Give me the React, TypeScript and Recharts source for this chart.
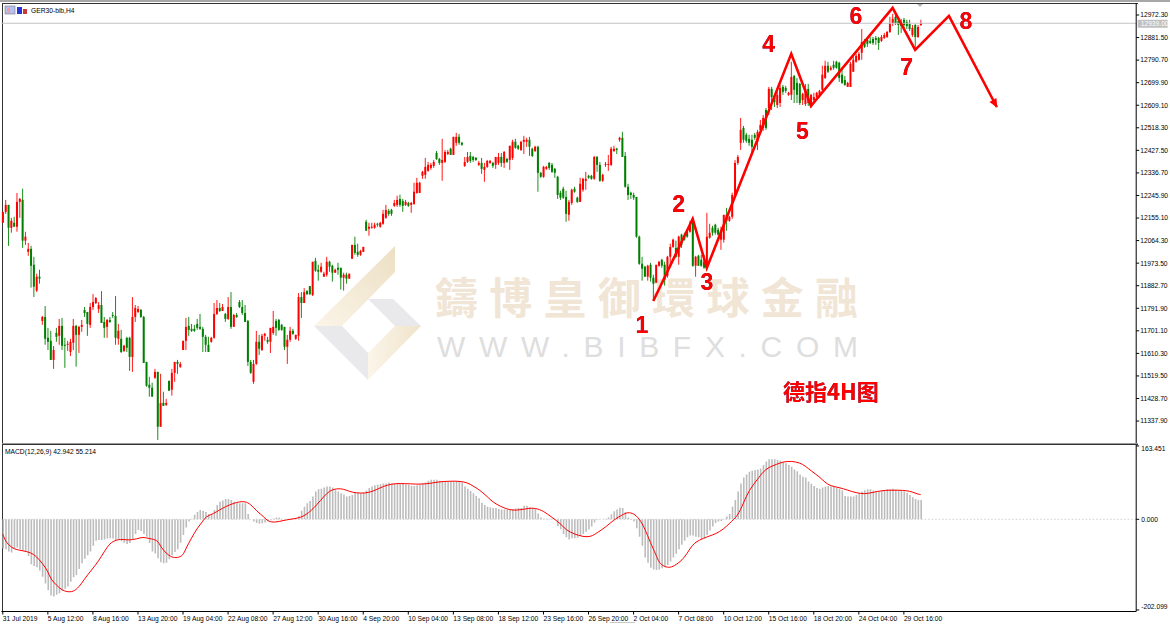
import {
  Bar,
  ComposedChart,
  Line,
  ReferenceDot,
  ReferenceLine,
  XAxis,
  YAxis,
} from "recharts";

// GER30 H4 candles (one row = 10 bars)
const opens = [
  12136, 12180, 12208, 12116, 12136, 12120, 12220, 12228, 12064, 12019,
  12031, 11967, 11863, 11919, 11741, 11757, 11673, 11661, 11584, 11693,
  11681, 11721, 11645, 11645, 11616, 11653, 11721, 11685, 11717, 11785,
  11777, 11725, 11797, 11813, 11789, 11805, 11737, 11717, 11745, 11765,
  11761, 11669, 11669, 11620, 11673, 11673, 11596, 11757, 11777, 11785,
  11757, 11576, 11484, 11472, 11512, 11536, 11315, 11411, 11403, 11500,
  11464, 11532, 11576, 11556, 11624, 11661, 11721, 11709, 11709, 11729,
  11717, 11709, 11677, 11645, 11657, 11673, 11769, 11793, 11781, 11769,
  11749, 11797, 11717, 11765, 11817, 11797, 11773, 11741, 11576, 11496,
  11568, 11657, 11624, 11681, 11665, 11657, 11693, 11741, 11745, 11725,
  11717, 11637, 11665, 11701, 11669, 11681, 11837, 11813, 11861, 11881,
  11845, 11983, 11947, 11939, 11919, 11927, 11979, 11963, 11935, 11955,
  11955, 11915, 11927, 11911, 11991, 12047, 12019, 12007, 12019, 12140,
  12112, 12116, 12116, 12132, 12120, 12132, 12156, 12184, 12188, 12204,
  12208, 12232, 12224, 12208, 12216, 12208, 12212, 12256, 12256, 12325,
  12329, 12345, 12357, 12365, 12417, 12393, 12377, 12381, 12413, 12434,
  12409, 12458, 12482, 12458, 12365, 12381, 12405, 12401, 12397, 12369,
  12377, 12349, 12361, 12377, 12377, 12369, 12377, 12401, 12377, 12393,
  12389, 12397, 12462, 12446, 12429, 12462, 12462, 12470, 12434, 12425,
  12442, 12337, 12321, 12353, 12377, 12369, 12353, 12321, 12257, 12273,
  12240, 12168, 12216, 12273, 12237, 12220, 12269, 12305, 12325, 12325,
  12313, 12401, 12369, 12305, 12369, 12369, 12369, 12425, 12434, 12470,
  12478, 12405, 12281, 12257, 12248, 12240, 12080, 11971, 11959, 11919,
  11967, 11915, 11895, 11963, 11987, 11967, 11923, 11999, 12039, 12035,
  11999, 12088, 12080, 12100, 12100, 12140, 11963, 12003, 11987, 11979,
  11963, 12076, 12116, 12128, 12108, 12068, 12068, 12168, 12144, 12160,
  12248, 12377, 12458, 12518, 12490, 12474, 12470, 12490, 12462, 12510,
  12518, 12590, 12598, 12675, 12642, 12610, 12618, 12683, 12679, 12651,
  12651, 12727, 12699, 12695, 12630, 12614, 12675, 12602, 12630, 12642,
  12651, 12671, 12719, 12768, 12752, 12772, 12784, 12780, 12732, 12711,
  12683, 12683, 12744, 12784, 12792, 12820, 12868, 12872, 12868, 12876,
  12880, 12880, 12868, 12880, 12884, 12904, 12940, 12965, 12948, 12944,
  12953, 12944, 12936, 12892, 12932, 12884, 12932,
];
const highs = [
  12180, 12228, 12208, 12156, 12160, 12256, 12236, 12273, 12100, 12055,
  12043, 11999, 11931, 11947, 11761, 11801, 11713, 11701, 11640, 11713,
  11749, 11753, 11673, 11661, 11669, 11749, 11725, 11721, 11745, 11797,
  11777, 11813, 11849, 11837, 11817, 11861, 11757, 11749, 11757, 11777,
  11841, 11729, 11705, 11645, 11677, 11677, 11837, 11805, 11801, 11789,
  11761, 11576, 11516, 11492, 11548, 11536, 11528, 11456, 11427, 11500,
  11548, 11576, 11584, 11576, 11661, 11753, 11757, 11729, 11725, 11749,
  11769, 11717, 11685, 11677, 11677, 11813, 11825, 11813, 11809, 11773,
  11837, 11857, 11769, 11773, 11825, 11825, 11805, 11745, 11584, 11584,
  11701, 11685, 11689, 11693, 11677, 11713, 11781, 11749, 11749, 11729,
  11717, 11685, 11717, 11709, 11685, 11853, 11857, 11873, 11865, 11881,
  11979, 11995, 11967, 11975, 11939, 11999, 11983, 11967, 11951, 11975,
  11955, 11935, 11935, 11931, 12047, 12080, 12052, 12027, 12039, 12148,
  12136, 12136, 12136, 12136, 12140, 12188, 12208, 12192, 12192, 12228,
  12245, 12249, 12232, 12228, 12220, 12220, 12297, 12317, 12301, 12345,
  12397, 12381, 12377, 12389, 12425, 12397, 12474, 12429, 12429, 12438,
  12482, 12498, 12494, 12462, 12401, 12421, 12421, 12405, 12401, 12385,
  12397, 12377, 12389, 12389, 12381, 12401, 12417, 12417, 12425, 12397,
  12446, 12470, 12474, 12450, 12466, 12486, 12478, 12482, 12438, 12446,
  12446, 12341, 12365, 12365, 12381, 12377, 12357, 12325, 12265, 12281,
  12265, 12228, 12273, 12281, 12241, 12317, 12317, 12341, 12329, 12329,
  12405, 12405, 12381, 12333, 12381, 12409, 12442, 12446, 12438, 12482,
  12502, 12421, 12293, 12261, 12257, 12240, 12084, 11999, 11963, 11967,
  11975, 11927, 11967, 11983, 11991, 11979, 12003, 12052, 12072, 12064,
  12084, 12092, 12096, 12104, 12144, 12148, 12003, 12007, 12007, 12007,
  12176, 12132, 12124, 12132, 12116, 12120, 12168, 12196, 12164, 12257,
  12389, 12409, 12558, 12526, 12498, 12490, 12490, 12498, 12510, 12550,
  12570, 12598, 12683, 12683, 12651, 12663, 12691, 12691, 12687, 12663,
  12784, 12731, 12719, 12699, 12659, 12695, 12695, 12655, 12659, 12663,
  12671, 12768, 12788, 12784, 12768, 12788, 12788, 12784, 12752, 12727,
  12703, 12784, 12804, 12816, 12824, 12916, 12876, 12880, 12884, 12884,
  12888, 12884, 12892, 12900, 12908, 12965, 12977, 12977, 12965, 12957,
  12961, 12953, 12953, 12932, 12936, 12932, 12953,
];
const lows = [
  12136, 12172, 12043, 12096, 12120, 12100, 12156, 12035, 12047, 12003,
  11875, 11837, 11857, 11891, 11725, 11645, 11624, 11584, 11548, 11657,
  11645, 11624, 11552, 11620, 11600, 11624, 11557, 11612, 11697, 11757,
  11681, 11713, 11785, 11809, 11773, 11733, 11673, 11673, 11733, 11753,
  11645, 11645, 11612, 11616, 11616, 11540, 11536, 11737, 11773, 11753,
  11572, 11476, 11436, 11436, 11508, 11262, 11315, 11399, 11399, 11460,
  11440, 11496, 11528, 11552, 11624, 11624, 11681, 11697, 11697, 11705,
  11705, 11616, 11616, 11616, 11653, 11669, 11765, 11777, 11781, 11737,
  11745, 11709, 11717, 11753, 11793, 11765, 11737, 11560, 11528, 11488,
  11564, 11604, 11620, 11661, 11649, 11612, 11685, 11681, 11701, 11701,
  11624, 11568, 11657, 11685, 11665, 11661, 11753, 11813, 11845, 11845,
  11841, 11939, 11903, 11935, 11919, 11919, 11939, 11899, 11935, 11927,
  11867, 11863, 11891, 11911, 11991, 12007, 11999, 12003, 12019, 12104,
  12084, 12112, 12112, 12120, 12116, 12128, 12152, 12164, 12164, 12200,
  12200, 12200, 12180, 12204, 12200, 12176, 12208, 12253, 12257, 12313,
  12313, 12341, 12349, 12357, 12389, 12369, 12305, 12377, 12409, 12409,
  12409, 12446, 12450, 12446, 12361, 12377, 12377, 12381, 12385, 12365,
  12333, 12301, 12357, 12373, 12357, 12353, 12369, 12361, 12357, 12377,
  12349, 12389, 12434, 12429, 12425, 12413, 12442, 12405, 12401, 12421,
  12261, 12317, 12317, 12349, 12349, 12337, 12317, 12232, 12228, 12232,
  12140, 12144, 12208, 12257, 12216, 12220, 12261, 12269, 12313, 12309,
  12309, 12341, 12301, 12301, 12361, 12345, 12365, 12421, 12413, 12462,
  12401, 12277, 12228, 12232, 12228, 12076, 11967, 11903, 11919, 11903,
  11899, 11825, 11895, 11959, 11955, 11883, 11915, 11959, 12035, 11995,
  11967, 12035, 12064, 12076, 12096, 11959, 11919, 11963, 11959, 11951,
  11959, 12072, 12084, 12088, 12084, 12027, 12056, 12104, 12140, 12152,
  12240, 12369, 12429, 12458, 12458, 12446, 12409, 12470, 12429, 12506,
  12506, 12510, 12570, 12590, 12602, 12598, 12602, 12651, 12659, 12647,
  12630, 12618, 12618, 12610, 12610, 12606, 12606, 12598, 12622, 12639,
  12639, 12663, 12715, 12739, 12748, 12752, 12756, 12703, 12695, 12687,
  12683, 12683, 12744, 12780, 12788, 12792, 12840, 12844, 12856, 12852,
  12852, 12832, 12864, 12876, 12880, 12900, 12928, 12932, 12892, 12900,
  12920, 12916, 12908, 12884, 12840, 12880, 12928,
];
const closes = [
  12180, 12208, 12116, 12144, 12120, 12220, 12232, 12064, 12080, 12031,
  11963, 11879, 11919, 11911, 11757, 11669, 11657, 11584, 11624, 11677,
  11721, 11641, 11641, 11649, 11657, 11721, 11685, 11717, 11725, 11773,
  11729, 11797, 11817, 11833, 11805, 11733, 11713, 11745, 11737, 11761,
  11673, 11701, 11616, 11641, 11633, 11596, 11757, 11793, 11789, 11757,
  11572, 11480, 11472, 11436, 11536, 11315, 11411, 11399, 11411, 11460,
  11532, 11576, 11568, 11568, 11661, 11717, 11705, 11701, 11701, 11713,
  11709, 11677, 11645, 11616, 11673, 11769, 11793, 11781, 11797, 11749,
  11797, 11717, 11765, 11757, 11797, 11773, 11737, 11576, 11532, 11568,
  11657, 11629, 11681, 11689, 11657, 11713, 11717, 11713, 11705, 11705,
  11637, 11665, 11701, 11689, 11685, 11837, 11813, 11857, 11849, 11849,
  11979, 11943, 11939, 11959, 11931, 11979, 11959, 11935, 11947, 11947,
  11915, 11927, 11911, 11931, 12047, 12015, 12007, 12023, 12039, 12104,
  12120, 12120, 12128, 12128, 12136, 12172, 12188, 12172, 12172, 12216,
  12228, 12208, 12204, 12220, 12204, 12216, 12261, 12297, 12297, 12341,
  12361, 12369, 12369, 12381, 12393, 12377, 12389, 12421, 12421, 12409,
  12482, 12482, 12458, 12450, 12381, 12401, 12385, 12389, 12389, 12377,
  12353, 12361, 12385, 12385, 12365, 12401, 12401, 12377, 12421, 12381,
  12446, 12462, 12438, 12434, 12462, 12470, 12470, 12442, 12405, 12442,
  12337, 12321, 12361, 12361, 12357, 12341, 12337, 12248, 12237, 12237,
  12172, 12220, 12269, 12261, 12220, 12293, 12313, 12313, 12317, 12313,
  12401, 12369, 12305, 12329, 12373, 12373, 12434, 12434, 12429, 12478,
  12401, 12281, 12248, 12248, 12237, 12080, 11971, 11951, 11919, 11963,
  11915, 11891, 11967, 11979, 11963, 11907, 11999, 12039, 12068, 11999,
  12080, 12047, 12068, 12080, 12136, 11963, 11999, 11963, 11963, 11955,
  12080, 12096, 12096, 12096, 12088, 12104, 12168, 12144, 12160, 12248,
  12377, 12401, 12510, 12470, 12466, 12458, 12442, 12478, 12502, 12530,
  12558, 12518, 12675, 12642, 12622, 12651, 12679, 12663, 12667, 12659,
  12723, 12671, 12651, 12618, 12655, 12675, 12618, 12651, 12642, 12659,
  12667, 12732, 12768, 12744, 12760, 12760, 12760, 12719, 12699, 12691,
  12699, 12776, 12792, 12808, 12816, 12864, 12844, 12856, 12860, 12860,
  12872, 12860, 12884, 12892, 12904, 12940, 12957, 12940, 12932, 12928,
  12932, 12928, 12916, 12920, 12884, 12924, 12940,
];

// MACD histogram, one value per candle
const macdMain = [
  -65, -67, -72, -74, -65, -63, -67, -69, -73, -82,
  -100, -104, -107, -114, -128, -143, -158, -170, -172, -168,
  -165, -159, -155, -150, -139, -129, -124, -111, -98, -88,
  -80, -72, -59, -48, -46, -46, -45, -43, -42, -43,
  -46, -46, -49, -52, -55, -53, -44, -33, -24, -26,
  -33, -39, -53, -72, -76, -87, -96, -98, -97, -89,
  -80, -73, -67, -52, -35, -18, -5, 1, 10, 16,
  21, 19, 16, 12, 12, 21, 32, 39, 42, 45,
  45, 43, 39, 37, 36, 36, 36, 12, 0, -5,
  -8, -10, -9, -7, -4, -1, 2, 4, 4, 1,
  0, -1, 0, 1, 2, 7, 19, 28, 36, 41,
  51, 62, 67, 68, 71, 73, 73, 71, 65, 62,
  58, 55, 51, 52, 54, 59, 59, 58, 59, 64,
  70, 73, 76, 77, 78, 80, 80, 82, 80, 80,
  80, 80, 80, 78, 77, 74, 74, 76, 77, 80,
  82, 86, 88, 88, 88, 86, 84, 84, 84, 84,
  84, 84, 84, 82, 73, 68, 63, 58, 52, 47,
  37, 32, 28, 27, 25, 25, 23, 22, 22, 22,
  22, 23, 24, 25, 25, 30, 30, 27, 25, 24,
  13, 4, 1, 1, 1, 1, -1, -15, -22, -33,
  -40, -45, -42, -42, -41, -37, -33, -28, -23, -16,
  -7, -1, 0, 0, 1, 4, 11, 18, 22, 26,
  25, 16, 4, -1, -5, -20, -39, -59, -85, -97,
  -108, -112, -113, -112, -109, -107, -102, -94, -85, -77,
  -67, -57, -48, -40, -36, -36, -39, -40, -44, -43,
  -35, -25, -16, -8, -5, -4, 1, 6, 12, 28,
  43, 62, 80, 93, 100, 106, 108, 110, 111, 113,
  121, 129, 134, 134, 134, 132, 131, 128, 125, 121,
  117, 111, 107, 100, 95, 93, 84, 79, 74, 70,
  68, 71, 73, 74, 73, 72, 70, 68, 65, 52,
  51, 51, 51, 54, 58, 62, 65, 67, 67, 64,
  62, 62, 63, 65, 67, 67, 68, 66, 65, 64,
  62, 59, 54, 49, 45, 43, 43,
];

// signal line: bar index and value at each point
const signalBars = [
  0, 1, 3, 5, 7, 10, 12, 14, 16, 17, 19, 21, 24, 26, 28, 30, 33, 35, 37, 39,
  42, 44, 46, 49, 50, 52, 55, 56, 58, 60, 62, 64, 65, 67, 69, 71, 72, 75, 77, 79,
  82, 84, 86, 88, 90, 93, 94, 96, 98, 101, 103, 106, 108, 110, 113, 115, 117, 120, 122, 124,
  127, 130, 133, 135, 138, 141, 145, 148, 152, 155, 159, 162, 165, 167, 169, 172, 174, 177, 179, 181,
  184, 187, 189, 192, 195, 198, 200, 203, 206, 209, 211, 214, 217, 220, 222, 224, 226, 228, 230, 232,
  233, 235, 237, 239, 242, 244, 246, 249, 251, 253, 256, 258, 261, 263, 265, 268, 270, 272, 275, 277,
  280, 283, 285, 287, 290, 292, 294, 297, 300, 303, 306, 309, 312, 315, 318, 321, 323, 325, 326,
];
const signalValues = [
  -33, -50, -63, -68, -70, -74, -83, -98, -115, -134, -146, -159, -163, -158, -143, -124, -102, -83, -62, -48,
  -44, -46, -46, -41, -40, -43, -46, -61, -76, -85, -86, -81, -65, -42, -20, -5, 6, 13, 21, 28,
  36, 39, 40, 34, 19, 4, -4, -7, -5, -1, 1, 4, 12, 22, 43, 58, 67, 69, 65, 60,
  58, 59, 67, 73, 79, 80, 79, 78, 80, 84, 85, 85, 82, 74, 67, 51, 38, 28, 23, 20,
  21, 25, 25, 19, 4, -9, -24, -33, -39, -39, -30, -18, -1, 10, 16, 13, 2, -20, -53, -79,
  -97, -106, -108, -102, -87, -65, -50, -42, -37, -33, -22, -9, 7, 36, 65, 89, 106, 116, 123, 128,
  130, 126, 119, 108, 95, 82, 74, 71, 65, 59, 56, 60, 64, 65, 65, 64, 61, 56, 55,
];

// drawn wave 1-8 and its arrow
const waveBars = [231, 245, 250, 280, 287, 316, 324, 336, 353];
const wavePrices = [11821, 12152, 11954, 12816, 12606, 13001, 12832, 12969, 12602];
const waveNames = ["1", "2", "3", "4", "5", "6", "7", "8"];
const waveNameBars = [227, 240, 250, 272, 284, 303, 321, 342];
const waveNamePrices = [11725, 12212, 11898, 12856, 12506, 12969, 12763, 12948];

const priceTicks = [
  12972.3, 12881.5, 12790.7, 12699.9, 12609.1, 12518.3, 12427.5, 12336.7, 12245.9, 12155.1,
  12064.3, 11973.5, 11882.7, 11791.9, 11701.1, 11610.3, 11519.5, 11428.7, 11337.9,
];
const macdTicks = [163.451, 0, -202.099];
const lastPrice = 12939;

const timeTickBars = [
  0, 16, 32, 48, 64, 80, 96, 112, 128, 144, 160, 176, 192, 208, 224, 240, 256, 272, 288, 304, 320,
];
const timeLabels = [
  "31 Jul 2019", "5 Aug 12:00", "8 Aug 16:00", "13 Aug 20:00", "19 Aug 04:00", "22 Aug 08:00",
  "27 Aug 12:00", "30 Aug 16:00", "4 Sep 20:00", "10 Sep 04:00", "13 Sep 08:00", "18 Sep 12:00",
  "23 Sep 16:00", "26 Sep 20:00", "2 Oct 04:00", "7 Oct 08:00", "10 Oct 12:00", "15 Oct 16:00",
  "18 Oct 20:00", "24 Oct 04:00", "29 Oct 16:00",
];

const SLOTS = 403; // room for the wave to run past the last candle

const rows = Array.from({ length: SLOTS }, (_, i) => {
  const hasCandle = i < opens.length;
  const signalAt = signalBars.indexOf(i);
  const waveAt = waveBars.indexOf(i);
  return {
    bar: i,
    open: hasCandle ? opens[i] : null,
    high: hasCandle ? highs[i] : null,
    low: hasCandle ? lows[i] : null,
    close: hasCandle ? closes[i] : null,
    range: hasCandle ? [lows[i], highs[i]] : null,
    main: hasCandle ? macdMain[i] : null,
    signal: signalAt >= 0 ? signalValues[signalAt] : null,
    wave: waveAt >= 0 ? wavePrices[waveAt] : null,
  };
});

const FONT = "'Liberation Sans', Arial, sans-serif";
const AXIS_FONT = { fontSize: 6.7, fill: "#000", fontFamily: FONT };
const TEXT_SHADOW = "drop-shadow(0.8px 0.8px 0 #1c3f9c)";

const Candle = (props: any) => {
  const { x, y, width, height, payload } = props;
  if (payload.open == null) return null;
  const { open, high, low, close } = payload;
  const perUnit = height / (high - low || 1);
  const top = y + (high - Math.max(open, close)) * perUnit;
  const bodyH = Math.max(Math.abs(open - close) * perUnit, 1);
  const cx = x + width / 2;
  const color = close >= open ? "#ff0000" : "#008000";
  return (
    <g>
      <line x1={cx} x2={cx} y1={y} y2={y + height} stroke={color} strokeWidth={0.9} />
      <rect x={cx - 1} y={top} width={2} height={bodyH} fill={color} />
    </g>
  );
};

const ArrowDot = (props: any) => {
  const { cx, cy, index } = props;
  if (index !== rows.findIndex((r) => r.bar === waveBars[waveBars.length - 1])) return <g key={index} />;
  return (
    <polygon
      key={index}
      points="1,0 -8,-4 -8,4"
      fill="#ff0000"
      transform={`translate(${cx},${cy}) rotate(61)`}
    />
  );
};

const WaveName = (name: string) => (props: any) => (
  <text
    x={props.cx}
    y={props.cy + 8}
    textAnchor="middle"
    fontFamily={FONT}
    fontWeight="bold"
    fontSize={23}
    fill="#ff0000"
    style={{ filter: TEXT_SHADOW }}
  >
    {name}
  </text>
);

const LastPriceTag = (props: any) => {
  const { x, y, width } = props.viewBox;
  const left = x + width + 1.5;
  return (
    <g>
      <rect x={left} y={y - 3.5} width={30} height={8} fill="#c0c0c0" />
      <text x={left + 3} y={y + 2.8} fontFamily={FONT} fontSize={6.7} fill="#fff">
        {lastPrice.toFixed(2)}
      </text>
    </g>
  );
};

const TimeTick = (props: any) => {
  const { x, y, payload } = props;
  return (
    <text x={x} y={y + 4} fontFamily={FONT} fontSize={6.7} fill="#000">
      {timeLabels[timeTickBars.indexOf(payload.value)]}
    </text>
  );
};

// the end labels of the MACD scale sit inside the pane
const MacdTick = (props: any) => {
  const { x, y, payload } = props;
  const shift = payload.value > 0 ? 2.5 : payload.value < 0 ? -3.5 : 0;
  return (
    <text x={x + 1} y={y + shift + 2.4} fontFamily={FONT} fontSize={6.7} fill="#000">
      {payload.value.toFixed(3)}
    </text>
  );
};

const Backdrop = () => (
  <svg width={1170} height={624} style={{ position: "absolute", left: 0, top: 0 }}>
    <defs>
      <linearGradient id="goldUp" x1="0" y1="1" x2="1" y2="0">
        <stop offset="0" stopColor="#fbf5e9" />
        <stop offset="1" stopColor="#ecdfc3" />
      </linearGradient>
      <linearGradient id="goldDown" x1="0" y1="0.5" x2="1" y2="0.5">
        <stop offset="0" stopColor="#fbf5e9" />
        <stop offset="1" stopColor="#efe3ca" />
      </linearGradient>
    </defs>
    <rect x={0} y={0} width={1170} height={624} fill="#fff" />
    {/* window frame */}
    <rect x={0} y={0} width={1170} height={2} fill="#a8a8a8" />
    <rect x={2} y={3} width={1136} height={1} fill="#333" />
    <rect x={2} y={3} width={1} height={609} fill="#333" />
    <rect x={2} y={443} width={1136} height={1} fill="#9a9a9a" />
    <rect x={2} y={444} width={1136} height={1} fill="#333" />
    <rect x={610} y={622} width={25} height={1} fill="#c8c8c8" />
    {/* MT icons */}
    <rect x={5} y={6} width={10} height={8} fill="#b8c0f0" stroke="#777" strokeWidth={0.6} />
    <rect x={7} y={8} width={3} height={5} fill="#f0a0a0" />
    <rect x={17} y={7} width={5} height={7} fill="#2a35d8" />
    <rect x={23} y={9} width={4} height={5} fill="#c83a3a" />
    <polygon points="917,4 923,4 920,7" fill="#b8b8b8" />
    <text x={31} y={13} fontFamily={FONT} fontSize={6.7} fill="#000">GER30-bib,H4</text>
    <text x={5} y={453.5} fontFamily={FONT} fontSize={6.7} fill="#000">MACD(12,26,9) 42.942 55.214</text>
    {/* watermark */}
    <polygon points="314,326 395,246 395,272 342,326" fill="url(#goldUp)" />
    <polygon points="314,326 342,326 368,353 368,380" fill="#e9e9eb" />
    <polygon points="368,380 421,326 395,326 368,353" fill="url(#goldDown)" />
    <polygon points="368,299 393,299 421,326 395,326" fill="#e9e9eb" />
    <text
      x={435}
      y={314}
      textLength={423}
      fontFamily="'Noto Sans CJK TC', sans-serif"
      fontWeight={700}
      fontSize={43}
      fill="#f1e5d6"
    >
      鑄博皇御環球金融
    </text>
    <text x={437} y={357} textLength={421} fontFamily={FONT} fontSize={30} fill="#dedede">
      WWW.BIBFX.COM
    </text>
    <text
      x={783}
      y={400}
      fontFamily="'Noto Sans CJK SC', sans-serif"
      fontWeight={700}
      fontSize={22}
      fill="#ff0000"
      style={{ filter: TEXT_SHADOW }}
    >
      德指4H图
    </text>
  </svg>
);

const App = () => {
  return (
    <div style={{ position: "absolute", left: 0, top: 0, width: 1170, height: 624, overflow: "hidden" }}>
      <Backdrop />
      <div style={{ position: "absolute", left: 0, top: 0 }}>
        <ComposedChart
          width={1170}
          height={444}
          data={rows}
          margin={{ top: 3, right: 0, bottom: 1, left: 1.4 }}
          barCategoryGap={0}
          barGap={0}
        >
          <XAxis dataKey="bar" hide />
          <YAxis
            orientation="right"
            width={33.8}
            domain={[11249.6, 13020.6]}
            allowDataOverflow
            ticks={priceTicks}
            interval={0}
            tickFormatter={(v: number) => v.toFixed(2)}
            tick={AXIS_FONT}
            tickSize={3}
            tickMargin={1}
            axisLine={{ stroke: "#000" }}
            tickLine={{ stroke: "#000" }}
          />
          <ReferenceLine y={lastPrice} stroke="#c4c4c4" label={<LastPriceTag />} />
          <Bar dataKey="range" shape={<Candle />} isAnimationActive={false} />
          <Line
            dataKey="wave"
            connectNulls
            stroke="#ff0000"
            strokeWidth={2.6}
            dot={<ArrowDot />}
            activeDot={false}
            isAnimationActive={false}
          />
          {waveNames.map((name, i) => (
            <ReferenceDot
              key={name}
              x={waveNameBars[i]}
              y={waveNamePrices[i]}
              r={0}
              ifOverflow="visible"
              shape={WaveName(name)}
            />
          ))}
        </ComposedChart>
      </div>
      <div style={{ position: "absolute", left: 0, top: 0 }}>
        <ComposedChart
          width={1170}
          height={624}
          data={rows}
          margin={{ top: 445, right: 0, bottom: 0, left: 1.4 }}
          barCategoryGap={0}
          barGap={0}
        >
          <XAxis
            dataKey="bar"
            height={12.5}
            ticks={timeTickBars}
            interval={0}
            tick={<TimeTick />}
            tickSize={3}
            axisLine={{ stroke: "#000" }}
            tickLine={{ stroke: "#000" }}
          />
          <YAxis
            orientation="right"
            width={33.8}
            domain={[-205.5, 165.6]}
            allowDataOverflow
            ticks={macdTicks}
            interval={0}
            tick={<MacdTick />}
            tickSize={3}
            tickMargin={1}
            axisLine={{ stroke: "#000" }}
            tickLine={{ stroke: "#000" }}
          />
          <Bar dataKey="main" barSize={1.6} fill="#bcbcbc" isAnimationActive={false} />
          <ReferenceLine y={0} stroke="#cfcfcf" strokeDasharray="1.5 2" />
          <Line
            dataKey="signal"
            type="basis"
            connectNulls
            stroke="#ff0000"
            strokeWidth={1}
            dot={false}
            activeDot={false}
            isAnimationActive={false}
          />
        </ComposedChart>
      </div>
    </div>
  );
};

export default App;
